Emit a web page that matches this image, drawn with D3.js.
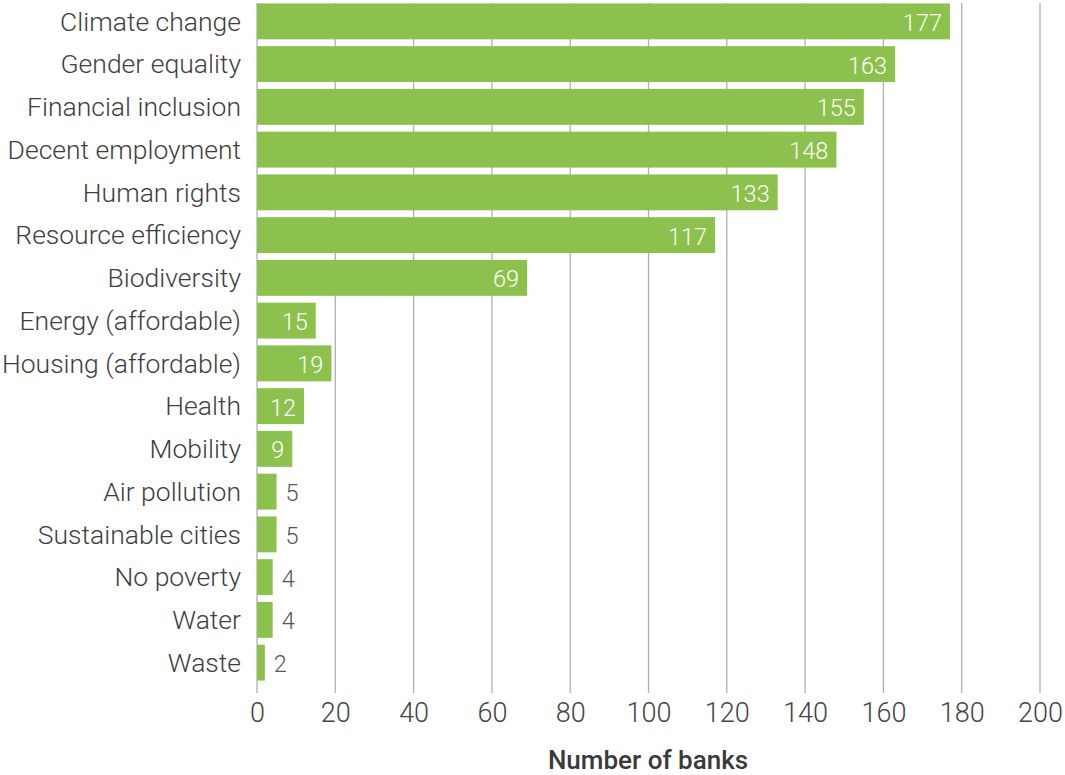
<!DOCTYPE html>
<html>
<head>
<meta charset="utf-8">
<script src="https://cdn.jsdelivr.net/npm/d3@7"></script>
<style>
  html, body { margin: 0; padding: 0; background: #fff; }
  svg { display: block; font-family: Roboto, "Noto Sans", sans-serif; }
</style>
</head>
<body>
<svg id="chart" width="1065" height="775"></svg>
<script>
// Sustainability topics addressed, by number of banks
const topics = [
  "Climate change", "Gender equality", "Financial inclusion", "Decent employment",
  "Human rights", "Resource efficiency", "Biodiversity", "Energy (affordable)",
  "Housing (affordable)", "Health", "Mobility", "Air pollution",
  "Sustainable cities", "No poverty", "Water", "Waste"
];
const banks = [177, 163, 155, 148, 133, 117, 69, 15, 19, 12, 9, 5, 5, 4, 4, 2];
const xTicks = [0, 20, 40, 60, 80, 100, 120, 140, 160, 180, 200];
const xTitle = "Number of banks";

const svg = d3.select("#chart");
const plotLeft = 257, plotRight = 1040, plotTop = 0, plotBottom = 684, gridBottom = 693;

const x = d3.scaleLinear().domain([0, 200]).range([plotLeft, plotRight]);
const y = d3.scaleBand().domain(topics).range([plotTop, plotBottom])
  .paddingInner(0.16).paddingOuter(0.08);

// vertical gridlines
svg.append("g").selectAll("line").data(xTicks).join("line")
  .attr("x1", d => x(d)).attr("x2", d => x(d))
  .attr("y1", 3).attr("y2", gridBottom)
  .attr("stroke", "#b0b0b0").attr("stroke-width", 1.3);

// bars
svg.append("g").selectAll("rect").data(topics).join("rect")
  .attr("x", x(0))
  .attr("y", d => y(d))
  .attr("width", (d, i) => x(banks[i]) - x(0))
  .attr("height", y.bandwidth())
  .attr("fill", "#8bc14c");

// value labels: inside the bar when it fits, otherwise just past its end
const valFont = 23.5;
svg.append("g").selectAll("text").data(topics).join("text")
  .each(function (d, i) {
    const v = banks[i];
    const w = x(v) - x(0);
    const lblW = String(v).length * valFont * 0.56;
    const inside = w > lblW + 14;
    d3.select(this)
      .attr("x", inside ? x(v) - 8 : x(v) + 9)
      .attr("text-anchor", inside ? "end" : "start")
      .attr("fill", inside ? "#ffffff" : "#555555");
  })
  .attr("y", d => y(d) + y.bandwidth() / 2 + 1)
  .attr("dy", "0.36em")
  .attr("font-size", valFont)
  .attr("font-weight", 300)
  .text((d, i) => banks[i]);

// category labels
const yAxis = svg.append("g")
  .attr("transform", `translate(${x(0)},0)`)
  .call(d3.axisLeft(y).tickSize(0).tickPadding(16));
yAxis.select(".domain").remove();
yAxis.selectAll("text")
  .attr("font-size", 26.5)
  .attr("font-weight", 300)
  .attr("font-family", "Roboto, sans-serif")
  .attr("dy", "0.35em")
  .attr("fill", "#3e3e3e");

// x axis tick labels
const xAxis = svg.append("g")
  .attr("transform", `translate(0,${gridBottom})`)
  .call(d3.axisBottom(x).tickValues(xTicks).tickSize(0).tickPadding(10));
xAxis.select(".domain").remove();
xAxis.selectAll("text")
  .attr("font-size", 27)
  .attr("font-weight", 300)
  .attr("font-family", "Roboto, sans-serif")
  .attr("fill", "#444");

// axis title
svg.append("text")
  .attr("x", 648)
  .attr("y", 769)
  .attr("text-anchor", "middle")
  .attr("font-size", 26)
  .attr("font-weight", 500)
  .attr("fill", "#3a3a3a")
  .text(xTitle);
</script>
</body>
</html>
